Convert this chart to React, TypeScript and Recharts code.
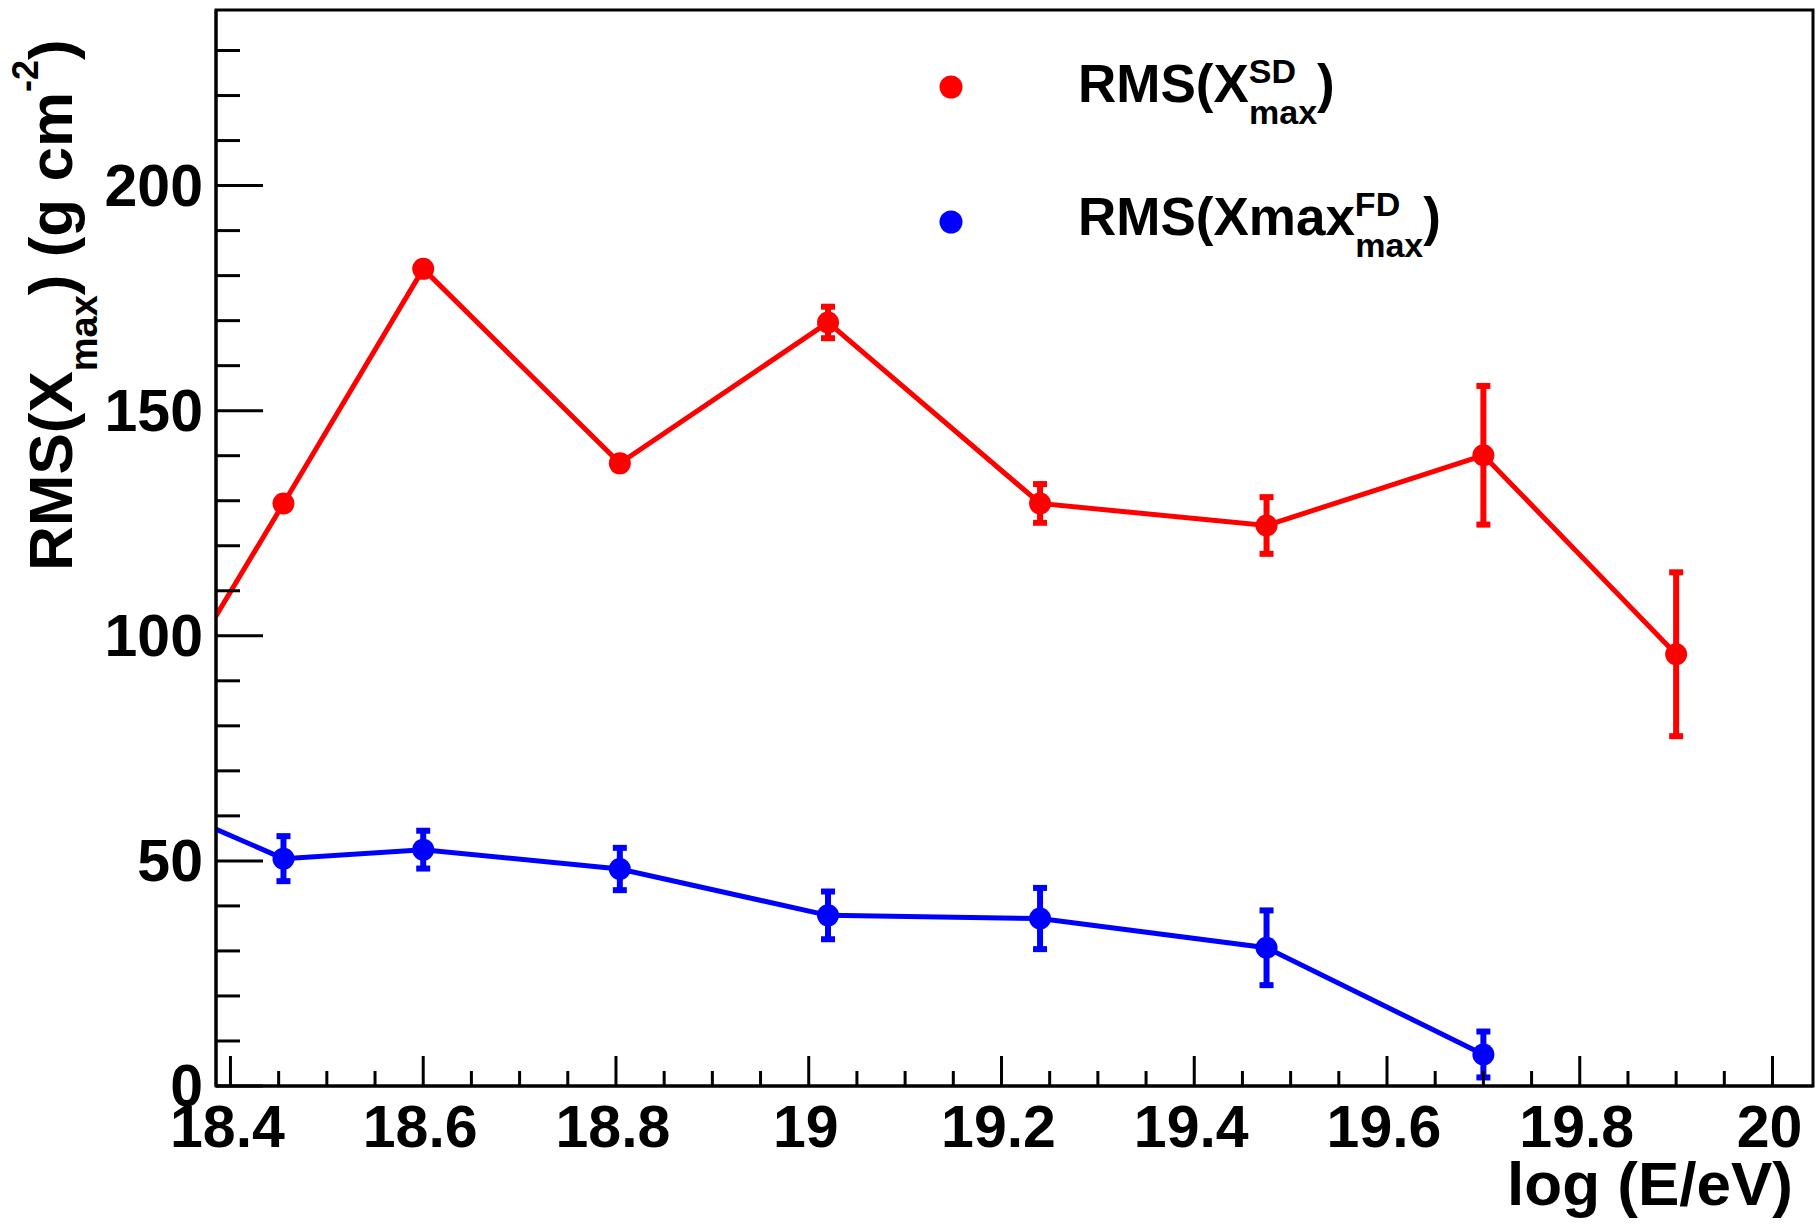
import { ComposedChart, Line, XAxis, YAxis, ErrorBar, ReferenceArea, Legend } from "recharts";

// log10(E/eV) bin centres
const sdEnergy = [18.3, 18.455, 18.6, 18.804, 19.02, 19.24, 19.475, 19.7, 19.9];
const sdRms = [74.1, 129.4, 181.5, 138.3, 169.6, 129.4, 124.5, 140.1, 95.9];
const sdErr = [0, 0, 0, 0, 3.5, 4.3, 6.3, 15.4, 18.2];

const fdEnergy = [18.3, 18.455, 18.6, 18.804, 19.02, 19.24, 19.475, 19.7];
const fdRms = [65.0, 50.5, 52.5, 48.2, 37.9, 37.2, 30.7, 7.0];
const fdErr = [0, 5.0, 4.2, 4.7, 5.3, 6.8, 8.3, 5.1];

const xMajorTicks = [18.4, 18.6, 18.8, 19, 19.2, 19.4, 19.6, 19.8, 20];
const xMinorTicks = [18.45, 18.5, 18.55, 18.65, 18.7, 18.75, 18.85, 18.9, 18.95, 19.05, 19.1, 19.15, 19.25, 19.3, 19.35, 19.45, 19.5, 19.55, 19.65, 19.7, 19.75, 19.85, 19.9, 19.95];
const yMajorTicks = [0, 50, 100, 150, 200];
const yMinorTicks = [10, 20, 30, 40, 60, 70, 80, 90, 110, 120, 130, 140, 160, 170, 180, 190, 210, 220, 230];

const X_MIN = 18.385;
const X_MAX = 20.042;
const Y_MIN = 0;
const Y_MAX = 239;

const SD_NAME = "RMS(Xmax SD)";
const FD_NAME = "RMS(Xmax FD)";

const FONT = '"Liberation Sans", Arial, Helvetica, sans-serif';
const RED = "#ff0000";
const BLUE = "#0000ff";

const sdData = sdEnergy.map((e, i) => ({ e, rms: sdRms[i], err: sdErr[i] }));
const fdData = fdEnergy.map((e, i) => ({ e, rms: fdRms[i], err: fdErr[i] }));

function XTick({ x, y, payload }: any) {
  const major = xMajorTicks.includes(payload.value);
  return (
    <g>
      <line x1={x} y1={y} x2={x} y2={y - (major ? 30 : 15)} stroke="#000" strokeWidth={3} />
      {major && (
        <text x={x - 3} y={y + 61} textAnchor="middle" fontFamily={FONT} fontWeight="bold" fontSize={59} fill="#000">
          {payload.value}
        </text>
      )}
    </g>
  );
}

function YTick({ x, y, payload }: any) {
  const major = yMajorTicks.includes(payload.value);
  return (
    <g>
      <line x1={x} y1={y} x2={x + (major ? 47 : 24)} y2={y} stroke="#000" strokeWidth={3} />
      {major && (
        <text x={x - 13} y={y + 20} textAnchor="end" fontFamily={FONT} fontWeight="bold" fontSize={59} fill="#000">
          {payload.value}
        </text>
      )}
    </g>
  );
}

function YTitle() {
  return (
    <text transform="translate(72, 571) rotate(-90)" fontFamily={FONT} fontWeight="bold" fontSize={62} fill="#000">
      RMS(X
      <tspan fontSize={38} dy={25}>max</tspan>
      <tspan dy={-25}>) (g cm</tspan>
      <tspan fontSize={36} dy={-34}>-2</tspan>
      <tspan dy={34}>)</tspan>
    </text>
  );
}

function LegendBox({ payload }: any) {
  const entries = payload || [];
  const colorOf = (name: string, fallback: string) =>
    (entries.find((p: any) => p.value === name) || {}).color || fallback;
  return (
    <svg width={560} height={250} style={{ overflow: "visible" }}>
      <circle cx={51} cy={57} r={11.5} fill={colorOf(SD_NAME, RED)} />
      <text x={178} y={72} fontFamily={FONT} fontWeight="bold" fontSize={53} fill="#000">
        RMS(X
        <tspan fontSize={34} dy={-19}>SD</tspan>
        <tspan fontSize={34} dx={-47} dy={41}>max</tspan>
        <tspan dy={-22}>)</tspan>
      </text>
      <circle cx={51} cy={192} r={11.5} fill={colorOf(FD_NAME, BLUE)} />
      <text x={178} y={205} fontFamily={FONT} fontWeight="bold" fontSize={53} fill="#000">
        RMS(Xmax
        <tspan fontSize={34} dy={-19}>FD</tspan>
        <tspan fontSize={34} dx={-45} dy={41}>max</tspan>
        <tspan dy={-22}>)</tspan>
      </text>
    </svg>
  );
}

export default function App() {
  return (
    <div style={{ position: "absolute", left: 0, top: 0, background: "#fff" }}>
      <ComposedChart width={1820} height={1226} margin={{ top: 10, right: 7, bottom: 0, left: 0 }}>
        <XAxis
          dataKey="e"
          type="number"
          domain={[X_MIN, X_MAX]}
          allowDataOverflow
          ticks={[...xMajorTicks, ...xMinorTicks]}
          interval={0}
          tickSize={0}
          tickMargin={0}
          tickLine={false}
          tick={<XTick />}
          height={140}
          axisLine={{ stroke: "#000", strokeWidth: 3 }}
        />
        <YAxis
          type="number"
          domain={[Y_MIN, Y_MAX]}
          allowDataOverflow
          ticks={[...yMajorTicks, ...yMinorTicks]}
          interval={0}
          tickSize={0}
          tickMargin={0}
          tickLine={false}
          tick={<YTick />}
          width={216}
          axisLine={{ stroke: "#000", strokeWidth: 3 }}
          label={<YTitle />}
        />
        <ReferenceArea x1={X_MIN} x2={X_MAX} y1={Y_MIN} y2={Y_MAX} fill="none" stroke="#000" strokeWidth={3} ifOverflow="visible" />
        <Line
          data={sdData}
          dataKey="rms"
          name={SD_NAME}
          stroke={RED}
          strokeWidth={5}
          dot={{ r: 11, fill: RED, stroke: RED, strokeWidth: 0 }}
          isAnimationActive={false}
        >
          <ErrorBar dataKey="err" direction="y" width={7} strokeWidth={6} stroke={RED} />
        </Line>
        <Line
          data={fdData}
          dataKey="rms"
          name={FD_NAME}
          stroke={BLUE}
          strokeWidth={5}
          dot={{ r: 11, fill: BLUE, stroke: BLUE, strokeWidth: 0 }}
          isAnimationActive={false}
        >
          <ErrorBar dataKey="err" direction="y" width={7} strokeWidth={6} stroke={BLUE} />
        </Line>
        <Legend
          layout="vertical"
          align="center"
          verticalAlign="middle"
          content={<LegendBox />}
          wrapperStyle={{ left: 900, top: 30, width: 560, height: 250 }}
        />
        <text x={1793} y={1205} textAnchor="end" fontFamily={FONT} fontWeight="bold" fontSize={62} fill="#000">
          log (E/eV)
        </text>
      </ComposedChart>
    </div>
  );
}
